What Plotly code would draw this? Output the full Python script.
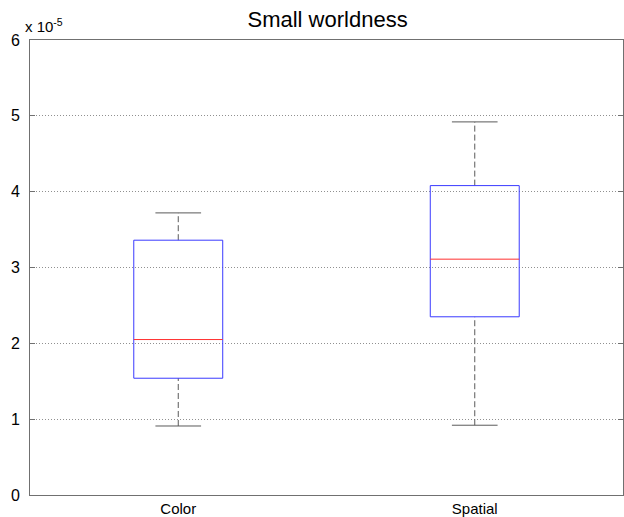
import plotly.graph_objects as go

categories = ["Color", "Spatial"]
lower_whisker = [0.91e-5, 0.92e-5]
q1 = [1.54e-5, 2.35e-5]
median = [2.05e-5, 3.11e-5]
q3 = [3.36e-5, 4.08e-5]
upper_whisker = [3.72e-5, 4.92e-5]
y_ticks = [0, 1e-5, 2e-5, 3e-5, 4e-5, 5e-5, 6e-5]
y_tick_labels = ["0", "1", "2", "3", "4", "5", "6"]

box_half = 0.15
cap_half = 0.077
fig = go.Figure()
for i, cat in enumerate(categories):
    xc = i + 1
    for a, b in ((q3[i], upper_whisker[i]), (lower_whisker[i], q1[i])):
        fig.add_trace(go.Scatter(x=[xc, xc], y=[a, b], mode="lines",
                                 line=dict(color="#5a5a5a", width=1, dash="6px,3px"), hoverinfo="skip"))
    for v in (upper_whisker[i], lower_whisker[i]):
        fig.add_trace(go.Scatter(x=[xc - cap_half, xc + cap_half], y=[v, v], mode="lines",
                                 line=dict(color="#5a5a5a", width=1), hoverinfo="skip"))
    fig.add_trace(go.Scatter(x=[xc - box_half, xc + box_half, xc + box_half, xc - box_half, xc - box_half],
                             y=[q1[i], q1[i], q3[i], q3[i], q1[i]], mode="lines",
                             line=dict(color="#3a3aff", width=1), hoverinfo="skip"))
    fig.add_trace(go.Scatter(x=[xc - box_half, xc + box_half], y=[median[i], median[i]], mode="lines",
                             line=dict(color="#ff3030", width=1), hoverinfo="skip"))

fig.update_layout(
    width=624, height=517,
    margin=dict(l=30, r=1, t=40, b=22),
    paper_bgcolor="white", plot_bgcolor="white",
    showlegend=False,
    font=dict(family="Liberation Sans, Arial", size=15, color="black"),
    title=dict(text="Small worldness", x=0.525, xanchor="center", y=0.962, yanchor="middle",
               font=dict(size=22, family="Liberation Sans, Arial", color="black")),
    xaxis=dict(range=[0.5, 2.5], tickvals=[1, 2], ticktext=categories, showgrid=False,
               zeroline=False, showline=True, linecolor="#707070", linewidth=1, mirror=True,
               ticks="", ticklen=0, tickfont=dict(size=15)),
    yaxis=dict(range=[0, 6e-5], tickvals=y_ticks, ticktext=y_tick_labels, showgrid=True,
               gridcolor="#909090", griddash="1px,2px", gridwidth=1, zeroline=False,
               showline=True, linecolor="#707070", linewidth=1, mirror="ticks",
               ticks="inside", ticklen=5, tickcolor="#707070", ticklabelstandoff=6,
               tickfont=dict(size=16)),
    annotations=[dict(text="x 10<sup>-5</sup>", xref="paper", yref="paper", x=0, y=1,
                      xanchor="left", yanchor="bottom", xshift=-7, yshift=3, showarrow=False,
                      font=dict(size=15, family="Liberation Sans, Arial"))],
)
fig.write_html("out.html")
